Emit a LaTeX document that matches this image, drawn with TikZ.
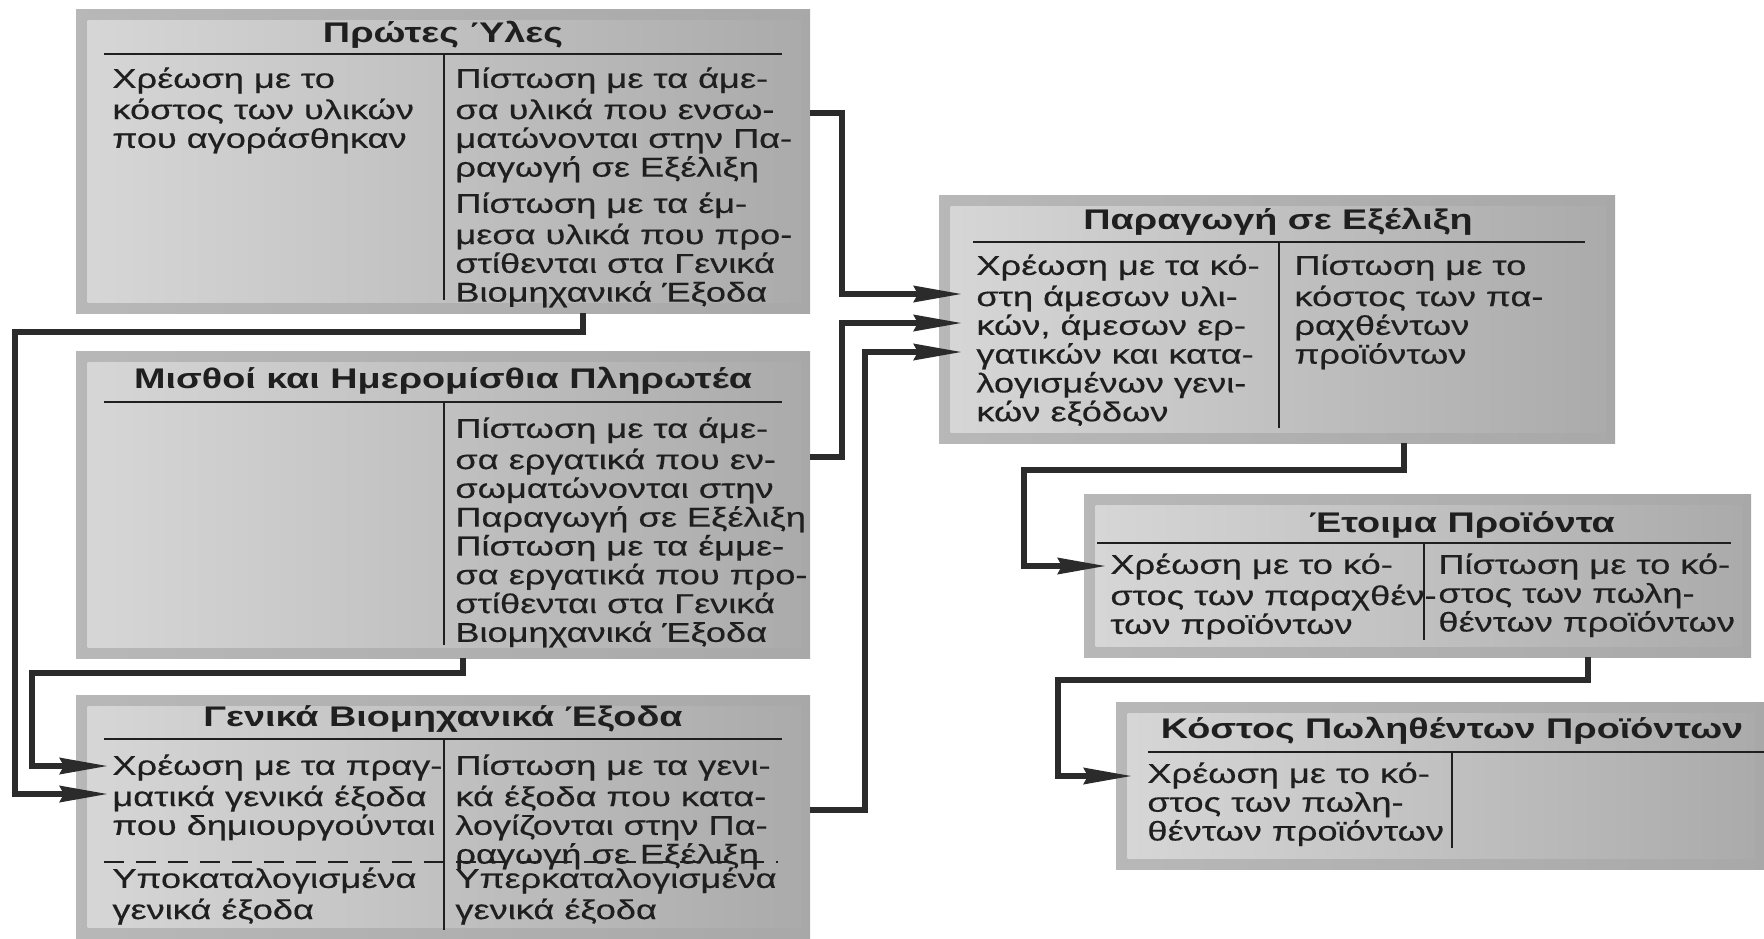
\documentclass[tikz,border=0pt]{standalone}
\usepackage{fontspec}
\setmainfont{Liberation Sans}[FakeStretch=1.33, UprightFeatures={FakeBold=0.5}]
\usetikzlibrary{arrows.meta,fit}

\definecolor{frameL}{gray}{0.72}
\definecolor{frameR}{gray}{0.66}
\definecolor{panelL}{gray}{0.84}
\definecolor{panelR}{gray}{0.67}
\definecolor{ink}{gray}{0.12}
\definecolor{wire}{gray}{0.17}

\tikzset{
  acct/.style={inner sep=0pt, left color=frameL, right color=frameR},
  ttl/.style={font=\fontsize{14.2}{15}\selectfont\bfseries, anchor=base, inner sep=0pt, text=ink},
  txt/.style={font=\fontsize{13.6}{14.4}\selectfont, anchor=north west, inner sep=0pt, align=left, text=ink},
  rule/.style={draw=ink, line width=1pt},
  split/.style={draw=ink, line width=1pt, dash pattern=on 10pt off 6pt},
  conn/.style={draw=wire, line width=2.75pt, -{Stealth[length=24pt,width=8pt,inset=2pt]}},
}

% inner lighter panel of an account box
\newcommand\acctpanel[1]{%
  \fill[left color=panelL, right color=panelR]
    ([shift={(12,12)}]#1.north west) rectangle ([shift={(-10,-11)}]#1.south east);}

\begin{document}
\begin{tikzpicture}[x=0.5pt,y=-0.5pt]
\useasboundingbox (0,0) rectangle (1764,938);
\fill[white] (0,0) rectangle (1764,938);

% ---------- account boxes ----------
\node[acct, fit={(76,9) (810,313)}] (b1) {};
\node[acct, fit={(76,351) (810,658)}] (b2) {};
\node[acct, fit={(76,695) (810,938)}] (b3) {};
\node[acct, fit={(939,195) (1615,443)}] (b4) {};
\node[acct, fit={(1084,494) (1751,657)}] (b5) {};
\node[acct, fit={(1116,702) (1764,869)}] (b6) {};
\acctpanel{b1}\acctpanel{b2}\acctpanel{b3}\acctpanel{b4}\acctpanel{b5}\acctpanel{b6}

% ---------- Πρώτες Ύλες ----------
\node[ttl] (t1) at (443,42) {Πρώτες Ύλες};
\draw[rule] (104,54) -- (782,54);
\draw[rule] (444,54) -- (444,300);
\node[txt] (b1l) at (112,67) {\strut Χρέωση με το\\κόστος των υλικών\\που αγοράσθηκαν};
\node[txt] (b1r) at (455,67) {\strut Πίστωση με τα άμε-\\σα υλικά που ενσω-\\ματώνονται στην Πα-\\ραγωγή σε Εξέλιξη};
\node[txt] (b1s) at (455,192) {\strut Πίστωση με τα έμ-\\μεσα υλικά που προ-\\στίθενται στα Γενικά\\Βιομηχανικά Έξοδα};

% ---------- Μισθοί και Ημερομίσθια Πληρωτέα ----------
\node[ttl] (t2) at (443,388) {Μισθοί και Ημερομίσθια Πληρωτέα};
\draw[rule] (104,402) -- (782,402);
\draw[rule] (444,402) -- (444,645);
\node[txt] (b2r) at (455,417) {\strut Πίστωση με τα άμε-\\σα εργατικά που εν-\\σωματώνονται στην\\Παραγωγή σε Εξέλιξη\\Πίστωση με τα έμμε-\\σα εργατικά που προ-\\στίθενται στα Γενικά\\Βιομηχανικά Έξοδα};

% ---------- Γενικά Βιομηχανικά Έξοδα ----------
\node[ttl] (t3) at (443,726) {Γενικά Βιομηχανικά Έξοδα};
\draw[rule] (104,739) -- (782,739);
\draw[rule] (444,739) -- (444,930);
\node[txt] (b3l) at (112,754) {\strut Χρέωση με τα πραγ-\\ματικά γενικά έξοδα\\που δημιουργούνται};
\node[txt] (b3r) at (455,754) {\strut Πίστωση με τα γενι-\\κά έξοδα που κατα-\\λογίζονται στην Πα-\\ραγωγή σε Εξέλιξη};
\draw[split] (104,862) -- (778,862);
\node[txt] (b3u) at (112,867) {\strut Υποκαταλογισμένα\\γενικά έξοδα};
\node[txt] (b3o) at (455,867) {\strut Υπερκαταλογισμένα\\γενικά έξοδα};

% ---------- Παραγωγή σε Εξέλιξη ----------
\node[ttl] (t4) at (1278,229) {Παραγωγή σε Εξέλιξη};
\draw[rule] (973,242) -- (1585,242);
\draw[rule] (1279,242) -- (1279,428);
\node[txt] (b4l) at (976,254) {\strut Χρέωση με τα κό-\\στη άμεσων υλι-\\κών, άμεσων ερ-\\γατικών και κατα-\\λογισμένων γενι-\\κών εξόδων};
\node[txt] (b4r) at (1294,254) {\strut Πίστωση με το\\κόστος των πα-\\ραχθέντων\\προϊόντων};

% ---------- Έτοιμα Προϊόντα ----------
\node[ttl] (t5) at (1462,532) {Έτοιμα Προϊόντα};
\draw[rule] (1097,543) -- (1731,543);
\draw[rule] (1424,543) -- (1424,640);
\node[txt] (b5l) at (1110,553) {\strut Χρέωση με το κό-\\στος των παραχθέν-\\των προϊόντων};
\node[txt] (b5r) at (1438,553) {\strut Πίστωση με το κό-\\στος των πωλη-\\θέντων προϊόντων};

% ---------- Κόστος Πωληθέντων Προϊόντων ----------
\node[ttl] (t6) at (1452,738) {Κόστος Πωληθέντων Προϊόντων};
\draw[rule] (1148,752) -- (1764,752);
\draw[rule] (1452,752) -- (1452,848);
\node[txt] (b6l) at (1147,762) {\strut Χρέωση με το κό-\\στος των πωλη-\\θέντων προϊόντων};

% ---------- flow connectors ----------
\coordinate (s1) at (b1.east |- 0,113);
\coordinate (s2) at (b2.east |- 0,457);
\coordinate (s3) at (b3.east |- 0,810);
\coordinate (e1) at (962,294);
\coordinate (e2) at (962,323);
\coordinate (e3) at (962,352);
\draw[conn] (s1) -- (842,113) |- (e1);
\draw[conn] (s2) -- (842,457) |- (e2);
\draw[conn] (s3) -- (865,810) |- (e3);

\coordinate (s4) at (b1.south -| 583,0);
\coordinate (s5) at (b2.south -| 463,0);
\coordinate (e4) at (108,794);
\coordinate (e5) at (108,766);
\draw[conn] (s4) |- (15,332) |- (e4);
\draw[conn] (s5) |- (32,673) |- (e5);

\coordinate (s6) at (b4.south -| 1404,0);
\coordinate (s7) at (b5.south -| 1588,0);
\coordinate (e6) at (1106,566);
\coordinate (e7) at (1132,776);
\draw[conn] (s6) |- (1024,470) |- (e6);
\draw[conn] (s7) |- (1058,680) |- (e7);
\end{tikzpicture}
\end{document}
